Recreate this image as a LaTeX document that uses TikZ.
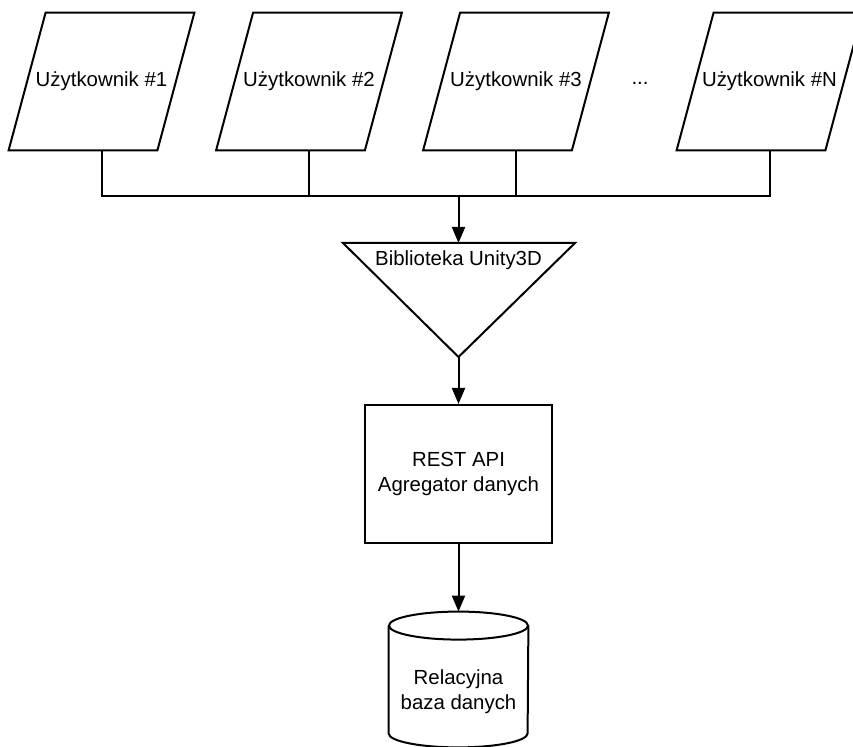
\documentclass[tikz,border=0pt]{standalone}
\usepackage{fontspec}
\setmainfont{Liberation Sans}
\usetikzlibrary{arrows.meta}

\tikzset{
    user/.style={minimum width=74pt, minimum height=68.5pt, inner sep=0pt},
    arr/.style={line width=1pt, -{Triangle[length=8pt,width=6.5pt]}},
    wire/.style={line width=1pt, line join=miter}
}

\begin{document}
\begin{tikzpicture}[x=0.5pt, y=-0.5pt, font=\fontsize{10.2}{12.5}\selectfont]
    \useasboundingbox (0, 0) rectangle (853, 747);
    % Def coords
    \coordinate (bus) at (458.5, 196);
    \coordinate (libtop) at (458.5, 243);
    \coordinate (libL) at (343, 243);
    \coordinate (libR) at (575, 243);
    \coordinate (libB) at (458.5, 357);
    % Users
    \node[user] (u1) at (101.5, 81.5) {Użytkownik \#1};
    \node[user] (u2) at (309, 81.5) {Użytkownik \#2};
    \node[user] (u3) at (516, 81.5) {Użytkownik \#3};
    \node[user] (uN) at (769.5, 81.5) {Użytkownik \#N};
    \node (dots) at (640, 83) {...};
    \foreach \u in {u1, u2, u3, uN}
        \draw[wire] ([xshift=9.25pt]\u.north west) -- ([xshift=9.25pt]\u.north east)
            -- ([xshift=-9.25pt]\u.south east) -- ([xshift=-9.25pt]\u.south west) -- cycle;
    % Draw bus lines
    \draw[wire] (u1.south) |- (bus) -| (uN.south);
    \foreach \u in {u2, u3}
        \draw[wire] (\u.south) -- (\u.south |- bus);
    % Draw library triangle
    \draw[wire] (libL) -- (libR) -- (libB) -- cycle;
    \node (lib) at (458.5, 260) {Biblioteka Unity3D};
    % Api and database
    \node[draw, line width=1pt, minimum width=93.5pt, minimum height=69pt, align=center]
        (api) at (458.5, 474) {REST API\\Agregator danych};
    \node[minimum width=69.5pt, minimum height=67.5pt, inner sep=0pt] (db) at (458.5, 679.5) {};
    \draw[wire] ([yshift=-7pt]db.north west) -- ([yshift=7pt]db.south west)
        arc (180:0:69.5 and 14) -- ([yshift=-7pt]db.north east);
    \draw[wire] ([yshift=-7pt]db.north) ellipse (69.5 and 14);
    \node[align=center] (dbtxt) at (458.5, 692) {Relacyjna\\baza danych};
    % Draw arrows
    \draw[arr] (bus) -- (libtop);
    \draw[arr] (libB) -- (api);
    \draw[arr] (api) -- (db);
\end{tikzpicture}
\end{document}
